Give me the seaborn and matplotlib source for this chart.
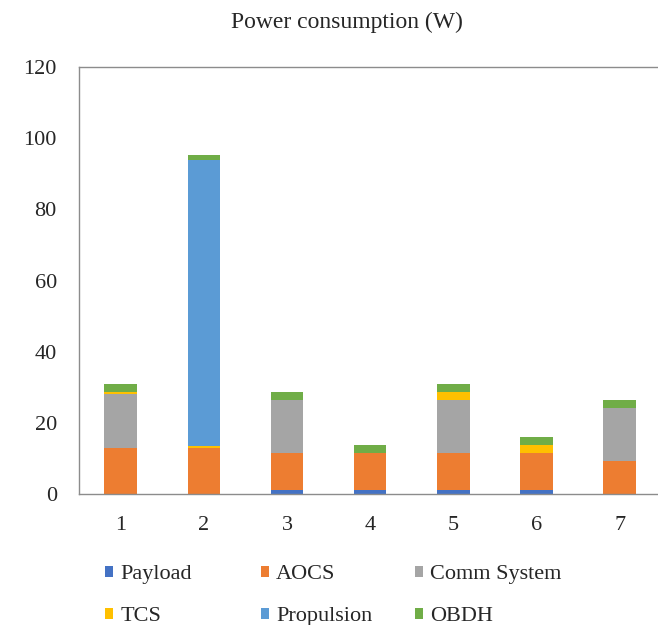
import matplotlib
matplotlib.use("Agg")
import matplotlib.pyplot as plt
import seaborn as sns
import numpy as np
from matplotlib.patches import Patch

# Power budget per operating mode (W)
modes = ["1", "2", "3", "4", "5", "6", "7"]
payload = [0, 0, 1, 1, 1, 1, 0]
aocs = [13, 13, 10.4, 10.4, 10.4, 10.4, 9.2]
comm_system = [15, 0, 15.1, 0, 15.1, 0, 15]
tcs = [0.7, 0.6, 0, 0, 2.2, 2.4, 0]
propulsion = [0, 80.2, 0, 0, 0, 0, 0]
obdh = [2.3, 1.6, 2.2, 2.3, 2.3, 2.1, 2.2]

series_names = ["Payload", "AOCS", "Comm System", "TCS", "Propulsion", "OBDH"]
series_values = [payload, aocs, comm_system, tcs, propulsion, obdh]
series_colors = ["#4472C4", "#ED7D31", "#A5A5A5", "#FFC000", "#5B9BD5", "#70AD47"]
y_ticks = [0, 20, 40, 60, 80, 100, 120]

sns.set_theme(style="white")
plt.rcParams["font.family"] = ["Liberation Serif", "DejaVu Serif"]

W, H = 658, 625
fig = plt.figure(figsize=(W / 100, H / 100), dpi=100)
ax = fig.add_axes([79 / W, 131 / H, 1.0 - 79 / W + 0.005, 427 / H])

bottom = np.zeros(len(modes))
for name, vals, col in zip(series_names, series_values, series_colors):
    vals = np.asarray(vals, dtype=float)
    sns.barplot(x=modes, y=vals, bottom=bottom, color=col, width=0.39,
                linewidth=0, saturation=1, ax=ax)
    bottom += vals

ax.set_ylim(0, 120)
ax.set_yticks(y_ticks)
ax.set_yticklabels([str(t) for t in y_ticks], fontsize=16)
ax.tick_params(axis="y", length=0, pad=16)
ax.tick_params(axis="x", length=0, pad=16, labelsize=16)
ax.set_xlabel("")
ax.set_ylabel("")

for side in ["left", "top", "bottom"]:
    ax.spines[side].set_visible(True)
    ax.spines[side].set_color("#8c8c8c")
    ax.spines[side].set_linewidth(1.0)
ax.spines["right"].set_visible(False)

fig.text(347 / W, 1 - 22 / H, "Power consumption (W)", ha="center", va="center",
         fontsize=17)

# Legend: 3 fixed-width columns, 2 rows, filled row by row
ncol = 3
col_left = [105, 261, 415]
handles = [Patch(facecolor=c, edgecolor="none") for c in series_colors]
for c in range(ncol):
    idx = list(range(c, len(series_names), ncol))
    fig.legend([handles[i] for i in idx], [series_names[i] for i in idx],
               loc="upper left", ncol=1,
               bbox_to_anchor=(col_left[c] / W, 1 - 565 / H), frameon=False,
               borderaxespad=0, borderpad=0,
               fontsize=16, handlelength=0.38, handleheight=0.38,
               handletextpad=0.3, labelspacing=1.05)

fig.savefig("out.png", dpi=100)
